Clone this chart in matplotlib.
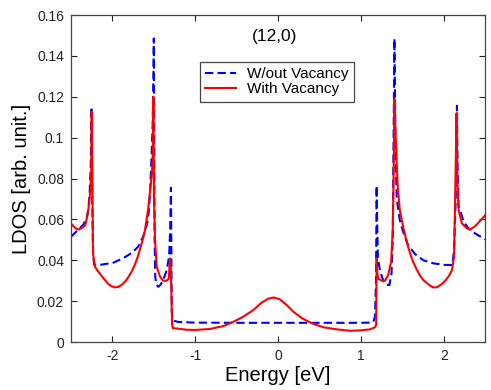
import numpy as np
import matplotlib
matplotlib.use("Agg")
import matplotlib.pyplot as plt
from matplotlib.ticker import FormatStrFormatter

plt.rcParams['font.family'] = ['Liberation Sans', 'DejaVu Sans']
plt.rcParams['axes.unicode_minus'] = False

# LDOS without vacancy
e_wo = [-2.50, -2.45, -2.40, -2.35, -2.31, -2.29, -2.275, -2.262, -2.252, -2.246,
        -2.24, -2.232, -2.22, -2.19, -2.11, -1.99, -1.87, -1.77, -1.69, -1.63,
        -1.58, -1.56, -1.545, -1.53, -1.515, -1.505, -1.50, -1.495, -1.49, -1.483,
        -1.47, -1.445, -1.42, -1.39, -1.345, -1.315, -1.303, -1.293, -1.287, -1.283,
        -1.275, -1.25, -1.20, -1.00, -0.50, 0.00, 0.50, 1.00, 1.10, 1.15,
        1.17, 1.183, 1.19, 1.197, 1.205, 1.23, 1.27, 1.31, 1.345, 1.37,
        1.385, 1.395, 1.405, 1.412, 1.42, 1.433, 1.47, 1.51, 1.57, 1.655,
        1.755, 1.875, 2.02, 2.105, 2.125, 2.145, 2.16, 2.168, 2.18, 2.20,
        2.24, 2.30, 2.38, 2.50]
ldos_wo = [0.0515, 0.0535, 0.0555, 0.0575, 0.061, 0.065, 0.073, 0.086, 0.115, 0.085,
           0.060, 0.042, 0.0378, 0.0375, 0.038, 0.0388, 0.041, 0.0435, 0.0466, 0.0515,
           0.058, 0.064, 0.074, 0.088, 0.105, 0.130, 0.1485, 0.090, 0.050, 0.032,
           0.028, 0.027, 0.028, 0.030, 0.035, 0.042, 0.055, 0.0755, 0.035, 0.015,
           0.0115, 0.0103, 0.0098, 0.0095, 0.0094, 0.0094, 0.0094, 0.0094, 0.0095, 0.0098,
           0.0124, 0.030, 0.0765, 0.058, 0.0417, 0.035, 0.030, 0.028, 0.0279, 0.0336,
           0.050, 0.100, 0.1485, 0.120, 0.090, 0.070, 0.0597, 0.054, 0.0474, 0.043,
           0.040, 0.0385, 0.0377, 0.0377, 0.045, 0.070, 0.1156, 0.085, 0.066, 0.0645,
           0.0588, 0.0556, 0.0531, 0.0502]

# LDOS with vacancy
e_wv = [-2.50, -2.45, -2.41, -2.37, -2.33, -2.30, -2.28, -2.265, -2.256, -2.25,
        -2.244, -2.238, -2.235, -2.21, -2.17, -2.11, -2.05, -2.01, -1.97, -1.93,
        -1.89, -1.85, -1.81, -1.77, -1.73, -1.70, -1.67, -1.64, -1.61, -1.57,
        -1.545, -1.525, -1.515, -1.505, -1.498, -1.485, -1.465, -1.425, -1.385, -1.345,
        -1.32, -1.303, -1.295, -1.285, -1.28, -1.27, -1.22, -1.10, -1.00, -0.82,
        -0.66, -0.54, -0.42, -0.30, -0.20, -0.12, -0.05, 0.02, 0.105, 0.185,
        0.29, 0.41, 0.55, 0.71, 0.87, 0.99, 1.11, 1.17, 1.185, 1.19,
        1.197, 1.21, 1.25, 1.29, 1.33, 1.365, 1.385, 1.395, 1.405, 1.415,
        1.43, 1.445, 1.47, 1.51, 1.54, 1.57, 1.60, 1.63, 1.67, 1.71,
        1.75, 1.80, 1.84, 1.875, 1.92, 1.96, 2.00, 2.04, 2.07, 2.10,
        2.125, 2.14, 2.155, 2.165, 2.18, 2.22, 2.28, 2.32, 2.38, 2.44,
        2.50]
ldos_wv = [0.058, 0.0558, 0.055, 0.0558, 0.057, 0.062, 0.068, 0.075, 0.083, 0.113,
           0.083, 0.060, 0.0435, 0.0368, 0.0344, 0.0313, 0.0284, 0.0273, 0.0267, 0.0270,
           0.0279, 0.0294, 0.0316, 0.0343, 0.0377, 0.0410, 0.0450, 0.0492, 0.054, 0.0645,
           0.074, 0.082, 0.0875, 0.120, 0.070, 0.050, 0.0368, 0.032, 0.030, 0.030,
           0.031, 0.041, 0.035, 0.019, 0.0085, 0.0068, 0.0066, 0.0060, 0.0059, 0.0064,
           0.0078, 0.0099, 0.0124, 0.0156, 0.0192, 0.0212, 0.0218, 0.0209, 0.0181, 0.0148,
           0.0116, 0.0091, 0.0072, 0.0062, 0.0055, 0.0057, 0.0062, 0.0072, 0.0085, 0.041,
           0.034, 0.031, 0.030, 0.030, 0.0328, 0.0393, 0.0548, 0.080, 0.119, 0.105,
           0.090, 0.076, 0.0645, 0.0564, 0.0512, 0.0466, 0.0427, 0.0393, 0.0358, 0.0328,
           0.0305, 0.0287, 0.0275, 0.0267, 0.0268, 0.0279, 0.0292, 0.0311, 0.0328, 0.0352,
           0.0417, 0.074, 0.112, 0.079, 0.0645, 0.058, 0.0556, 0.055, 0.0567, 0.0593,
           0.062]

xticks = [-2, -1, 0, 1, 2]
yticks = [0, 0.02, 0.04, 0.06, 0.08, 0.1, 0.12, 0.14, 0.16]

fig = plt.figure(figsize=(4.91, 3.90), dpi=100)
ax = fig.add_axes([0.1446, 0.123, 0.8434, 0.8385])

ax.plot(e_wo, ldos_wo, color="blue", linestyle=(0, (4, 2)), linewidth=1.5,
        label="W/out Vacancy")
ax.plot(e_wv, ldos_wv, color="red", linewidth=1.5, label="With Vacancy")

ax.set_xlim(-2.5, 2.5)
ax.set_ylim(0, 0.16)
ax.set_xticks(xticks)
ax.set_yticks(yticks)
ax.yaxis.set_major_formatter(FormatStrFormatter('%g'))
ax.tick_params(direction="in", top=True, right=True, length=4, width=0.8,
               labelsize=10, colors="#222222", pad=5)
for s in ax.spines.values():
    s.set_color("#444444")
    s.set_linewidth(0.9)

ax.set_xlabel("Energy [eV]", fontsize=14.5, labelpad=2)
ax.set_ylabel("LDOS [arb. unit.]", fontsize=14.5, labelpad=4)
ax.text(-0.04, 0.1497, "(12,0)", fontsize=12.5, ha="center", va="center")

leg = ax.legend(loc="upper left", bbox_to_anchor=(0.3116, 0.856), fontsize=11,
                frameon=True, fancybox=False, framealpha=1, edgecolor="#444444",
                handlelength=2.0, handletextpad=0.75, borderpad=0.35,
                labelspacing=0.05, borderaxespad=0)
leg.get_frame().set_linewidth(0.9)

fig.savefig("out.png", dpi=100)
